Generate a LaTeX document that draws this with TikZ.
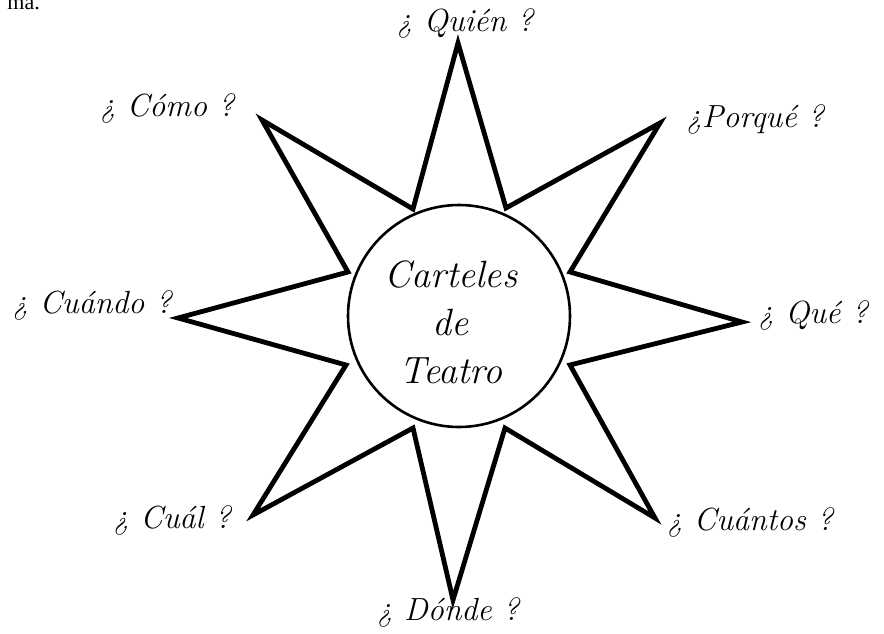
\documentclass[tikz,border=0pt]{standalone}
\usepackage{fontspec}
\newfontfamily\bookfont{Liberation Serif}
\usetikzlibrary{positioning}
\tikzset{
  ray/.style={line width=4.8pt,line join=miter,line cap=round},
  hub/.style={circle,draw,fill=white,line width=2.6pt,minimum size=222pt,inner sep=0pt},
  quest/.style={font=\fontsize{32}{38}\selectfont\itshape,inner sep=0pt},
}
\begin{document}
\begin{tikzpicture}[x=1pt,y=-1pt]
\useasboundingbox (0,0) rectangle (884,634);
% star tips
\coordinate (T) at (458,43);
\coordinate (UR) at (660,123);
\coordinate (R) at (742,322);
\coordinate (LR) at (655,518);
\coordinate (B) at (453,600);
\coordinate (LL) at (253,515);
\coordinate (L) at (178,318);
\coordinate (UL) at (262,120);
% inner corners, just outside the circle
\coordinate (i1) at (506,208);
\coordinate (i2) at (570,272);
\coordinate (i3) at (570,365);
\coordinate (i4) at (505,428);
\coordinate (i5) at (413,428);
\coordinate (i6) at (346,365);
\coordinate (i7) at (348,272);
\coordinate (i8) at (413,209);
% star
\draw[ray] (T)--(i1)--(UR)--(i2)--(R)--(i3)--(LR)--(i4)--(B)--(i5)--(LL)--(i6)--(L)--(i7)--(UL)--(i8)--cycle;
% centre
\node[hub] (hub) at (459,316) {};
\node[align=center,font=\fontsize{38}{48}\selectfont\itshape,inner sep=0pt] (title) at (451,322) {Carteles\\de\\Teatro};
% questions
\node[quest] (quien) at (465,24) {¿ Quién ?};
\node[quest] (porque) at (755,120) {¿Porqué ?};
\node[quest] (que) at (813,315) {¿ Qué ?};
\node[quest] (cuantos) at (750,522) {¿ Cuántos ?};
\node[quest] (donde) at (448,612) {¿ Dónde ?};
\node[quest] (cual) at (172,520) {¿ Cuál ?};
\node[quest] (cuando) at (92,305) {¿ Cuándo ?};
\node[quest] (como) at (167,108) {¿ Cómo ?};
% leftover of the page text
\node[font=\bookfont\fontsize{22}{24}\selectfont,anchor=base east,inner sep=0pt] (cut) at (40,10) {ma.};
\end{tikzpicture}
\end{document}
